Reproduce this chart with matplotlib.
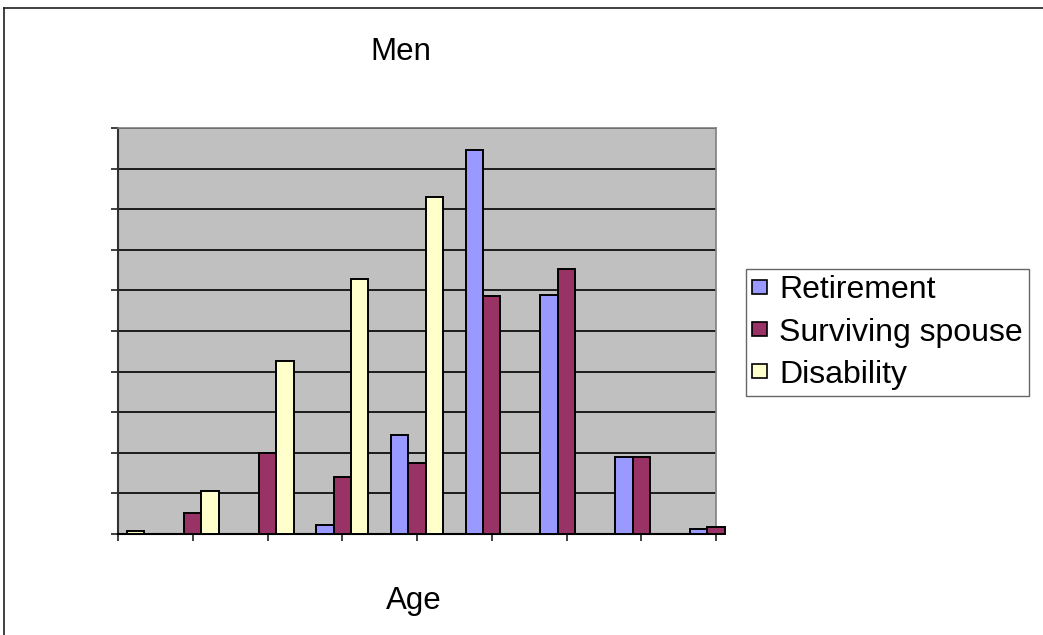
import numpy as np
import matplotlib.pyplot as plt
from matplotlib.lines import Line2D
from matplotlib.patches import Patch

plt.rcParams['font.family'] = ['Liberation Sans', 'DejaVu Sans']

# age bands on the x axis (no labels drawn), one group of three bars each
age_groups = list(range(9))
series = ['Retirement', 'Surviving spouse', 'Disability']
retirement = [0, 0, 0, 0.21, 2.44, 9.47, 5.89, 1.89, 0.12]
surviving_spouse = [0, 0.51, 1.99, 1.40, 1.74, 5.85, 6.53, 1.89, 0.17]
disability = [0.08, 1.06, 4.27, 6.28, 8.31, 0, 0, 0, 0]
colors = ['#9999FF', '#993366', '#FFFFCC']

W, H = 1043, 635
fig = plt.figure(figsize=(W / 100, H / 100), dpi=100)
ax = fig.add_axes([118 / W, 1 - 534 / H, 598 / W, 406 / H])
ax.set_facecolor('#C0C0C0')

x = np.arange(len(age_groups))
bw = 0.232
for i, (name, vals) in enumerate(zip(series, [retirement, surviving_spouse, disability])):
    bars = ax.bar(x + (i - 1) * bw, vals, width=bw, color=colors[i],
                  edgecolor='black', linewidth=1.4, clip_on=False, zorder=3)
    for b, v in zip(bars, vals):
        if v == 0:
            b.set_visible(False)

ax.set_xlim(0, len(age_groups) - 1)
ax.set_ylim(0, 10)
ax.set_yticks(np.arange(0, 11))
ax.set_xticks(x)
ax.set_xticklabels([])
ax.set_yticklabels([])
ax.yaxis.grid(True, color='black', linewidth=1.2, zorder=1)
ax.set_axisbelow(True)
ax.tick_params(axis='both', length=5, width=1.2, color='#202020', direction='out')

for side in ['top', 'right']:
    ax.spines[side].set_color('#808080')
    ax.spines[side].set_linewidth(1.2)
ax.spines['left'].set_color('#303030')
ax.spines['left'].set_linewidth(1.5)
ax.spines['bottom'].set_color('black')
ax.spines['bottom'].set_linewidth(1.5)

fig.text(401 / W, 1 - 52 / H, 'Men', fontsize=22.5, ha='center', va='center')
fig.text(414 / W, 1 - 601 / H, 'Age', fontsize=22.5, ha='center', va='center')

handles = [Patch(facecolor=c, edgecolor='black', linewidth=1.2) for c in colors]
leg = fig.legend(handles, series, loc='upper left', bbox_to_anchor=(746 / W, 1 - 269 / H),
                 fontsize=23, frameon=True, fancybox=False, borderpad=0.2,
                 labelspacing=0.38, handlelength=0.45, handleheight=0.32,
                 handletextpad=0.38, borderaxespad=0)
leg.get_frame().set_edgecolor('#404040')
leg.get_frame().set_linewidth(1.0)

# outer chart frame (top and left edges)
fig.add_artist(Line2D([4 / W, 4 / W], [0, 1 - 8 / H], transform=fig.transFigure,
                      color='#202020', linewidth=1.2))
fig.add_artist(Line2D([4 / W, 1], [1 - 8 / H, 1 - 8 / H], transform=fig.transFigure,
                      color='#202020', linewidth=1.2))

fig.savefig('out.png', dpi=100)
